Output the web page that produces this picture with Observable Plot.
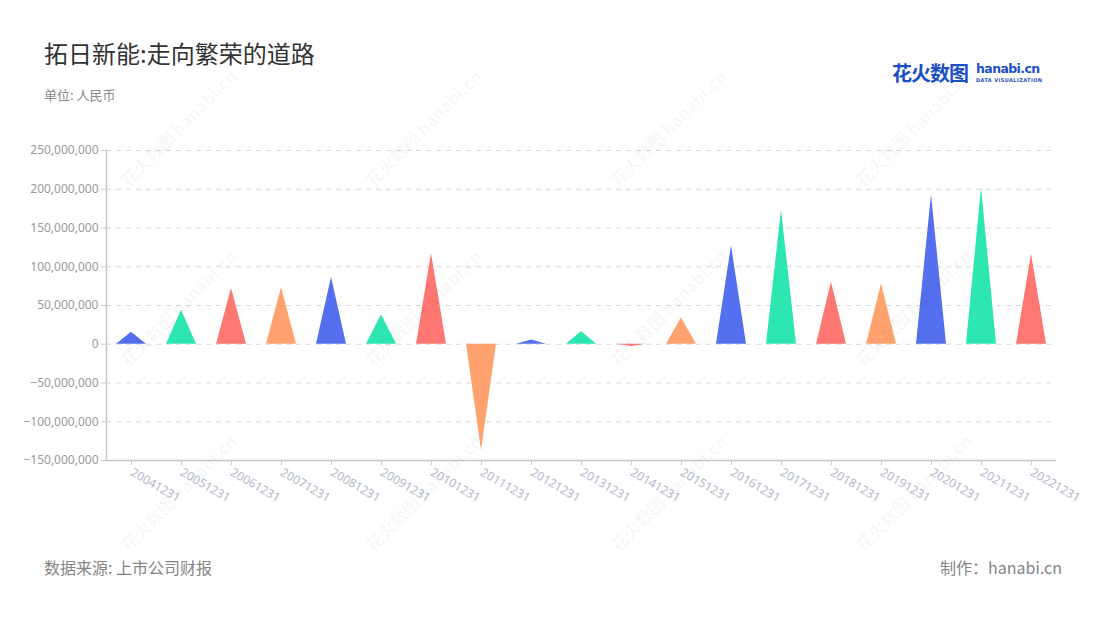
<!DOCTYPE html>
<html><head><meta charset="utf-8">
<script src="https://cdn.jsdelivr.net/npm/d3@7"></script>
<script src="https://cdn.jsdelivr.net/npm/@observablehq/plot@0.6"></script>
<style>
body{margin:0;background:#fff;font-family:"Noto Sans CJK SC","Noto Sans",sans-serif;}
#wrap{position:relative;width:1100px;height:620px;overflow:hidden;background:#fff;}
.title{position:absolute;left:44px;top:38px;font-size:24px;line-height:30px;color:#333;}
.sub{position:absolute;left:44px;top:86px;font-size:13px;line-height:18px;color:#8a8a8a;}
.foot{position:absolute;top:556px;font-size:16px;line-height:22px;color:#858585;}
#chart{position:absolute;left:0;top:130px;}
.logo{position:absolute;left:892px;top:58px;color:#1d4fc4;white-space:nowrap;}
.logo .cn{font-size:20px;font-weight:700;letter-spacing:-1px;}
.logo .en{position:absolute;left:84px;top:3px;font-family:"DejaVu Sans",sans-serif;font-size:12.5px;font-weight:700;letter-spacing:-0.6px;}
.logo .dv{position:absolute;left:84px;top:19px;font-family:"DejaVu Sans",sans-serif;font-size:5px;font-weight:700;letter-spacing:0.4px;}
.wm{position:absolute;transform:rotate(-45deg);transform-origin:left bottom;white-space:nowrap;color:rgba(0,0,0,0.045);font-size:17px;font-weight:700;pointer-events:none;}
</style></head><body>
<div id="wrap">
  <div class="title">拓日新能:走向繁荣的道路</div>
  <div class="sub">单位: 人民币</div>
  <div class="logo"><span class="cn">花火数图</span><span class="en">hanabi.cn</span><span class="dv">DATA VISUALIZATION</span></div>
  <div id="chart"></div>
  <div class="foot" style="left:44px;">数据来源: 上市公司财报</div>
  <div class="foot" style="right:38px;">制作：hanabi.cn</div>
</div>
<script>
// Data
const periods = ["20041231","20051231","20061231","20071231","20081231","20091231","20101231","20111231","20121231","20131231","20141231","20151231","20161231","20171231","20181231","20191231","20201231","20211231","20221231"];
const values = [15.5e6, 44e6, 72e6, 73e6, 86e6, 38e6, 117e6, -137e6, 5.5e6, 16.4e6, -3e6, 34e6, 127e6, 173e6, 80e6, 77.6e6, 193e6, 202e6, 116.5e6];
const palette = ["#5470EE", "#2EE6AF", "#FF7772", "#FFA26F"];
const yTicks = [-150e6, -100e6, -50e6, 0, 50e6, 100e6, 150e6, 200e6, 250e6];

// triangle vertices built from each value (half width 0.3 of a category step)
const rows = [];
periods.forEach((p, i) => {
  const c = palette[i % palette.length];
  rows.push({cat: p, x: i - 0.3, y: 0, color: c});
  rows.push({cat: p, x: i, y: values[i], color: c});
  rows.push({cat: p, x: i + 0.3, y: 0, color: c});
});

const chart = Plot.plot({
  width: 1100,
  height: 400,
  marginLeft: 106,
  marginRight: 44,
  marginTop: 20,
  marginBottom: 70,
  style: {fontFamily: "'Noto Sans', 'Noto Sans CJK SC', sans-serif", background: "transparent"},
  x: {domain: [-0.5, periods.length - 0.5], axis: null},
  y: {domain: [-150e6, 250e6], axis: null},
  color: {type: "identity"},
  marks: [
    Plot.gridY(yTicks, {stroke: "#d9d9d9", strokeOpacity: 1, strokeDasharray: "5,5"}),
    Plot.areaY(rows, {x: "x", y: "y", z: "cat", fill: "color", curve: "linear"}),
    Plot.ruleX([-0.5], {stroke: "#c8c8c8", strokeWidth: 1.5}),
    Plot.ruleY([-150e6], {stroke: "#c8c8c8", strokeWidth: 1.5}),
    Plot.axisY(yTicks, {label: null, tickSize: 5, tickPadding: 3, stroke: "#c8c8c8", fill: "#9a9a9a", fontSize: 12, tickFormat: d3.format(",")}),
    Plot.axisX(d3.range(periods.length), {label: null, tickSize: 5, tickPadding: 6, stroke: "#c8c8c8", fill: "#b4b9c9", fontSize: 12, tickRotate: 30, tickFormat: i => periods[i]})
  ]
});
document.getElementById("chart").appendChild(chart);

// watermarks
const wrap = document.getElementById("wrap");
const cols = [132, 377, 622, 867];
const rowsY = [190, 370, 555];
rowsY.forEach(y => cols.forEach(x => {
  const d = document.createElement("div");
  d.className = "wm";
  d.style.left = x + "px";
  d.style.top = (y - 24) + "px";
  d.textContent = "花火数图 hanabi.cn";
  wrap.appendChild(d);
}));
</script>
</body></html>
